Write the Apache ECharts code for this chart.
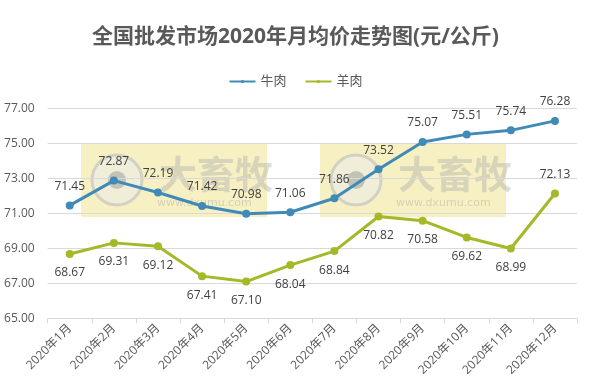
<!DOCTYPE html>
<html><head><meta charset="utf-8">
<script src="https://cdn.jsdelivr.net/npm/echarts@6/dist/echarts.min.js"></script>
<style>html,body{margin:0;padding:0;background:#fff}#c{width:591px;height:385px}</style>
</head><body><div id="c"></div>
<script>
const categories = ['2020年1月','2020年2月','2020年3月','2020年4月','2020年5月','2020年6月','2020年7月','2020年8月','2020年9月','2020年10月','2020年11月','2020年12月'];
const beef = [71.45,72.87,72.19,71.42,70.98,71.06,71.86,73.52,75.07,75.51,75.74,76.28];
const lamb = [68.67,69.31,69.12,67.41,67.10,68.04,68.84,70.82,70.58,69.62,68.99,72.13];
const seriesNames = ['牛肉','羊肉'];
const titleText = '全国批发市场2020年月均价走势图(元/公斤)';

const FONT = '"Open Sans","Noto Sans CJK SC",sans-serif';
const chart = echarts.init(document.getElementById('c'));
function wm(x){
  return {type:'group', left:x, top:143, z:100, children:[
    {type:'rect', shape:{x:0,y:0,width:186,height:74}, style:{fill:'rgba(232,216,96,0.38)'}},
    {type:'circle', shape:{cx:36,cy:37,r:25}, style:{fill:'rgba(235,235,235,0.55)', stroke:'rgba(190,190,190,0.6)', lineWidth:3}},
    {type:'circle', shape:{cx:36,cy:37,r:9}, style:{fill:'rgba(150,150,150,0.5)'}},
    {type:'text', x:78, y:12, style:{text:'大畜牧', fill:'rgba(170,170,170,0.4)', font:'bold 38px "Noto Sans CJK SC"'}},
    {type:'text', x:76, y:55, style:{text:'www.dxumu.com', fill:'rgba(170,170,170,0.45)', font:'11px "DejaVu Sans"'}}
  ]};
}
chart.setOption({
  animation:false,
  title:{text:titleText, left:'center', top:22, textStyle:{fontSize:21, fontWeight:'bold', color:'#595959', fontFamily:FONT}},
  legend:{data:seriesNames, top:70, left:'center', itemWidth:26, itemHeight:4, itemGap:18, textStyle:{fontSize:13, color:'#595959', fontFamily:FONT}},
  grid:{left:47.7, right:14, top:108.3, bottom:66.7, containLabel:false},
  xAxis:{type:'category', data:categories, boundaryGap:true,
    axisLine:{lineStyle:{color:'#D9D9D9'}}, axisTick:{show:true, alignWithLabel:false, lineStyle:{color:'#D9D9D9'}, length:5},
    axisLabel:{rotate:45, fontSize:12, color:'#595959', fontFamily:FONT, margin:8, interval:0}},
  yAxis:{type:'value', min:65, max:77, interval:2,
    axisLine:{show:false}, axisTick:{show:false},
    splitLine:{lineStyle:{color:'#D9D9D9'}},
    axisLabel:{formatter:v=>v.toFixed(2), fontSize:12, color:'#595959', fontFamily:FONT, margin:13}},
  series:[
    {name:seriesNames[0], type:'line', data:beef, symbol:'circle', symbolSize:8,
      lineStyle:{width:3, color:'#3F8AB6'}, itemStyle:{color:'#3F8AB6'},
      label:{show:true, position:'top', distance:9, formatter:p=>p.value.toFixed(2), fontSize:12, color:'#404040', fontFamily:FONT}},
    {name:seriesNames[1], type:'line', data:lamb.map((v,i)=> i===11 ? {value:v, label:{position:'top'}} : v), symbol:'circle', symbolSize:8,
      lineStyle:{width:3, color:'#A4B828'}, itemStyle:{color:'#A4B828'},
      label:{show:true, position:'bottom', distance:9, formatter:p=>p.value.toFixed(2), fontSize:12, color:'#404040', fontFamily:FONT}}
  ],
  graphic:[wm(81), wm(320)]
});
</script></body></html>
